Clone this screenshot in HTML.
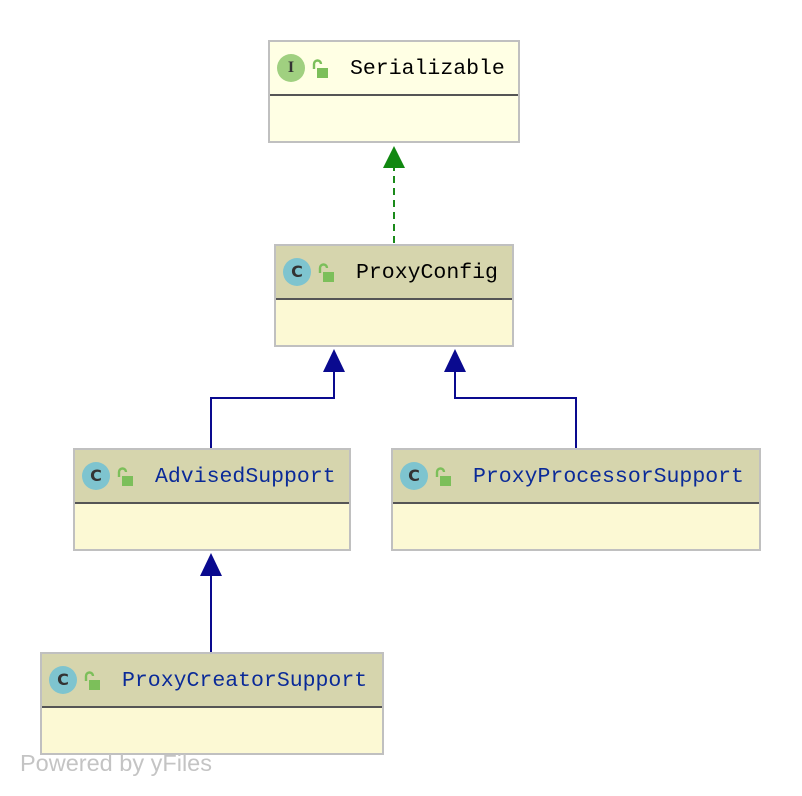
<!DOCTYPE html>
<html><head><meta charset="utf-8"><style>
body{margin:0;width:802px;height:796px;background:#fff;position:relative;overflow:hidden;font-family:"Liberation Mono",monospace}
.b{position:absolute;box-sizing:border-box;border:2px solid #c0c0c0;background:#fcf9d4;height:103px}
.h{position:absolute;left:0;right:0;top:0;height:52px;background:#d6d5ad;border-bottom:2px solid #555}
.i{position:absolute;left:7px;top:12px;width:28px;height:28px;border-radius:50%;background:#7ec4cf;color:#333;font:bold 16px "DejaVu Sans",sans-serif;text-align:center;line-height:28px}
.l{position:absolute;left:42px;top:17px;width:16px;height:20px}
.t{position:absolute;left:80px;top:14px;font-size:21.5px;line-height:26px;color:#0a2a98;white-space:nowrap}
.w{position:absolute;left:20px;top:750px;font:23.5px "Liberation Sans",sans-serif;color:#c4c4c4}
</style></head><body>
<svg width="802" height="796" style="position:absolute;left:0;top:0">
<line x1="394" y1="243" x2="394" y2="168" stroke="#1a8a1a" stroke-width="2" stroke-dasharray="7,5"/>
<polygon points="394,146 383,168 405,168" fill="#118811"/>
<polyline points="211,448 211,398 334,398 334,371" fill="none" stroke="#0a0a8f" stroke-width="2"/>
<polygon points="334,349 323,372 345,372" fill="#0a0a8f"/>
<polyline points="576,448 576,398 455,398 455,371" fill="none" stroke="#0a0a8f" stroke-width="2"/>
<polygon points="455,349 444,372 466,372" fill="#0a0a8f"/>
<line x1="211" y1="652" x2="211" y2="575" stroke="#0a0a8f" stroke-width="2"/>
<polygon points="211,553 200,576 222,576" fill="#0a0a8f"/>
</svg>
<div class="b" style="left:268px;top:40px;width:252px;background:#ffffe4"><div class="h" style="background:#ffffe4"></div><div class="i" style="background:#a0d080;font-family:'Liberation Serif',serif">I</div><svg class="l" viewBox="0 0 16 20"><path d="M2 10V5a3.5 3.5 0 0 1 7 0" fill="none" stroke="#7cbf5a" stroke-width="2.4"/><rect x="5" y="9" width="11" height="10" fill="#7cbf5a"/></svg><div class="t" style="color:#000">Serializable</div></div>
<div class="b" style="left:274px;top:244px;width:240px"><div class="h"></div><div class="i">C</div><svg class="l" viewBox="0 0 16 20"><path d="M2 10V5a3.5 3.5 0 0 1 7 0" fill="none" stroke="#7cbf5a" stroke-width="2.4"/><rect x="5" y="9" width="11" height="10" fill="#7cbf5a"/></svg><div class="t" style="color:#000">ProxyConfig</div></div>
<div class="b" style="left:73px;top:448px;width:278px"><div class="h"></div><div class="i">C</div><svg class="l" viewBox="0 0 16 20"><path d="M2 10V5a3.5 3.5 0 0 1 7 0" fill="none" stroke="#7cbf5a" stroke-width="2.4"/><rect x="5" y="9" width="11" height="10" fill="#7cbf5a"/></svg><div class="t">AdvisedSupport</div></div>
<div class="b" style="left:391px;top:448px;width:370px"><div class="h"></div><div class="i">C</div><svg class="l" viewBox="0 0 16 20"><path d="M2 10V5a3.5 3.5 0 0 1 7 0" fill="none" stroke="#7cbf5a" stroke-width="2.4"/><rect x="5" y="9" width="11" height="10" fill="#7cbf5a"/></svg><div class="t">ProxyProcessorSupport</div></div>
<div class="b" style="left:40px;top:652px;width:344px"><div class="h"></div><div class="i">C</div><svg class="l" viewBox="0 0 16 20"><path d="M2 10V5a3.5 3.5 0 0 1 7 0" fill="none" stroke="#7cbf5a" stroke-width="2.4"/><rect x="5" y="9" width="11" height="10" fill="#7cbf5a"/></svg><div class="t">ProxyCreatorSupport</div></div>
<div class="w">Powered by yFiles</div>
</body></html>
